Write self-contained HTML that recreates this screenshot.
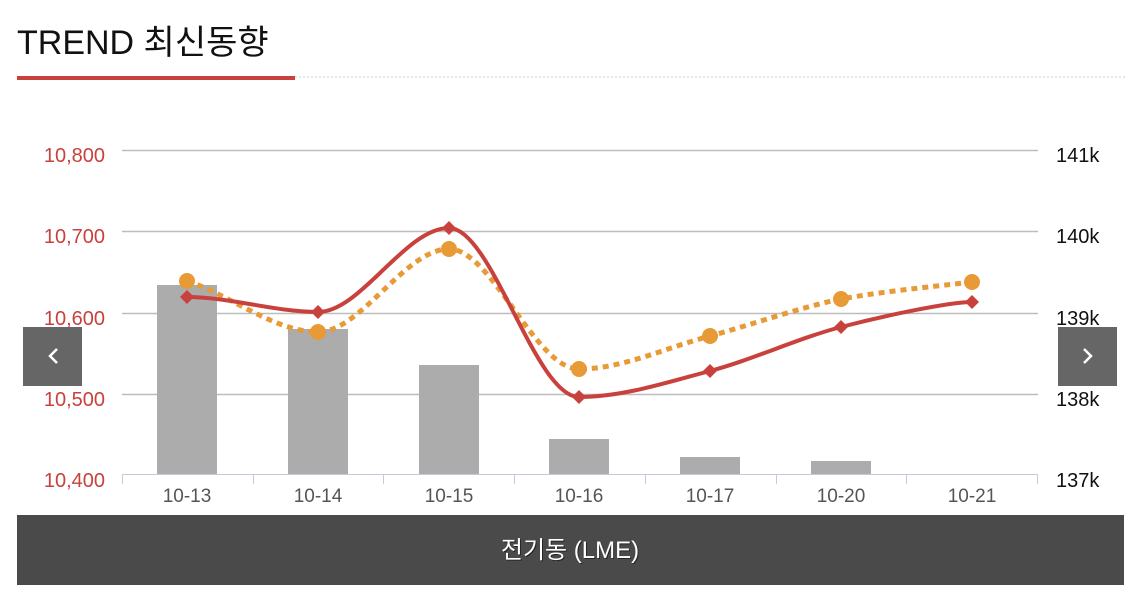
<!DOCTYPE html>
<html><head><meta charset="utf-8"><style>
body{margin:0;background:#fff;width:1139px;height:599px;overflow:hidden;font-family:"Liberation Sans","Noto Sans CJK KR",sans-serif;}
</style></head><body>
<svg width="1139" height="599" xmlns="http://www.w3.org/2000/svg" style="position:absolute;left:0;top:0">
<text x="17" y="54" font-size="34" fill="#111" font-family="Liberation Sans, Noto Sans CJK KR, sans-serif">TREND 최신동향</text>
<line x1="295" y1="77" x2="1125" y2="77" stroke="#ccc" stroke-width="1" stroke-dasharray="2,2"/>
<rect x="17" y="76" width="278" height="4" fill="#c9413c"/>
<g stroke="#bdbdbd" stroke-width="1.5">
<line x1="122" y1="150.5" x2="1038" y2="150.5"/>
<line x1="122" y1="231.5" x2="1038" y2="231.5"/>
<line x1="122" y1="313.5" x2="1038" y2="313.5"/>
<line x1="122" y1="394.5" x2="1038" y2="394.5"/>
</g>
<g fill="#acacac">
<rect x="157" y="285" width="60" height="189"/>
<rect x="288" y="329" width="60" height="145"/>
<rect x="419" y="365" width="60" height="109"/>
<rect x="549" y="439" width="60" height="35"/>
<rect x="680" y="457" width="60" height="17"/>
<rect x="811" y="461" width="60" height="13"/>
</g>
<g stroke="#c4cbd8" stroke-width="1">
<line x1="122" y1="474.5" x2="1038" y2="474.5"/>
<line x1="122.5" y1="474" x2="122.5" y2="484"/>
<line x1="253.5" y1="474" x2="253.5" y2="484"/>
<line x1="383.5" y1="474" x2="383.5" y2="484"/>
<line x1="514.5" y1="474" x2="514.5" y2="484"/>
<line x1="645.5" y1="474" x2="645.5" y2="484"/>
<line x1="776.5" y1="474" x2="776.5" y2="484"/>
<line x1="906.5" y1="474" x2="906.5" y2="484"/>
<line x1="1037.5" y1="474" x2="1037.5" y2="484"/>
</g>
<g font-size="20" fill="#c9413c" text-anchor="end">
<text x="105" y="162">10,800</text>
<text x="105" y="243">10,700</text>
<text x="105" y="325">10,600</text>
<text x="105" y="406">10,500</text>
<text x="105" y="487">10,400</text>
</g>
<g font-size="20" fill="#111">
<text x="1056" y="162">141k</text>
<text x="1056" y="243">140k</text>
<text x="1056" y="325">139k</text>
<text x="1056" y="406">138k</text>
<text x="1056" y="487">137k</text>
</g>
<g font-size="19" fill="#555" text-anchor="middle">
<text x="187" y="502">10-13</text>
<text x="318" y="502">10-14</text>
<text x="449" y="502">10-15</text>
<text x="579" y="502">10-16</text>
<text x="710" y="502">10-17</text>
<text x="841" y="502">10-20</text>
<text x="972" y="502">10-21</text>
</g>
<path d="M187,281 C230,295 275,332 318,332 C361,332 405,249 449,249 C492,249 535,369 579,369 C622,369 666,347.7 710,336 C753.7,324.3 797.3,308 841,299 C884.7,291 950,284.8 972,282" fill="none" stroke="#e89a36" stroke-width="5" stroke-dasharray="6,5"/>
<path d="M187,297 C230,297 275,312 318,312 C361,312 405,228 449,228 C492,228 535,397 579,397 C622,397 666,382.7 710,371 C753.7,359.3 797.3,338.5 841,327 C884.7,315.5 950,302 972,302" fill="none" stroke="#c9413c" stroke-width="4"/>
<g fill="#e89a36">
<circle cx="187" cy="281" r="8"/><circle cx="318" cy="332" r="8"/><circle cx="449" cy="249" r="8"/><circle cx="579" cy="369" r="8"/><circle cx="710" cy="336" r="8"/><circle cx="841" cy="299" r="8"/><circle cx="972" cy="282" r="8"/>
</g>
<g fill="#c9413c">
<path d="M187,290 l7,7 -7,7 -7,-7z"/><path d="M318,305 l7,7 -7,7 -7,-7z"/><path d="M449,221 l7,7 -7,7 -7,-7z"/><path d="M579,390 l7,7 -7,7 -7,-7z"/><path d="M710,364 l7,7 -7,7 -7,-7z"/><path d="M841,320 l7,7 -7,7 -7,-7z"/><path d="M972,295 l7,7 -7,7 -7,-7z"/>
</g>
<rect x="23" y="327" width="59" height="59" fill="#666"/>
<path d="M57,349 l-7,7 7,7" fill="none" stroke="#fff" stroke-width="2.5"/>
<rect x="1058" y="327" width="59" height="59" fill="#666"/>
<path d="M1084,349 l7,7 -7,7" fill="none" stroke="#fff" stroke-width="2.5"/>
<rect x="17" y="515" width="1107" height="70" fill="#4a4a4a"/>
<text x="571" y="559" font-size="24" fill="#000" opacity="0.5" text-anchor="middle">전기동 (LME)</text>
<text x="570" y="558" font-size="24" fill="#fff" text-anchor="middle">전기동 (LME)</text>
</svg>
</body></html>
